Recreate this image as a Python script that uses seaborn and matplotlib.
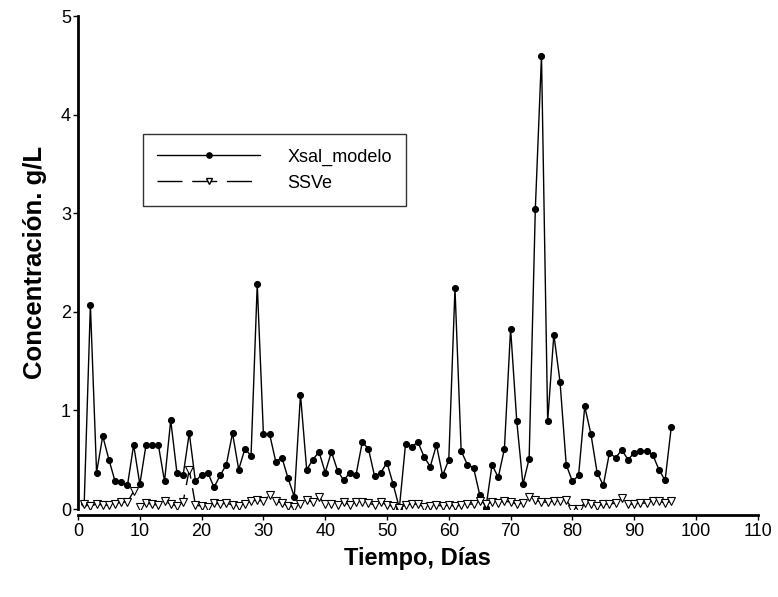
import matplotlib
matplotlib.use("Agg")
import matplotlib.pyplot as plt
import seaborn as sns
import pandas as pd
from matplotlib.lines import Line2D

days = list(range(1, 97))
xsal_modelo = [0.06, 2.07, 0.37, 0.74, 0.50, 0.28, 0.27, 0.24, 0.65, 0.25,
               0.65, 0.65, 0.65, 0.28, 0.90, 0.37, 0.34, 0.77, 0.28, 0.35,
               0.37, 0.22, 0.34, 0.45, 0.77, 0.40, 0.61, 0.54, 2.28, 0.76,
               0.76, 0.48, 0.52, 0.31, 0.125, 1.16, 0.40, 0.50, 0.58, 0.37,
               0.58, 0.39, 0.29, 0.37, 0.35, 0.68, 0.61, 0.33, 0.37, 0.47,
               0.25, 0.01, 0.66, 0.63, 0.68, 0.53, 0.43, 0.65, 0.34, 0.50,
               2.24, 0.59, 0.45, 0.42, 0.145, 0.01, 0.45, 0.32, 0.61, 1.83,
               0.89, 0.25, 0.51, 3.04, 4.60, 0.89, 1.77, 1.29, 0.45, 0.28,
               0.34, 1.04, 0.76, 0.37, 0.24, 0.57, 0.52, 0.60, 0.50, 0.57,
               0.59, 0.59, 0.55, 0.40, 0.29, 0.83]
ssve = [0.05, 0.03, 0.05, 0.04, 0.04, 0.05, 0.07, 0.07, 0.18, 0.02,
        0.06, 0.05, 0.04, 0.08, 0.05, 0.03, 0.07, 0.40, 0.04, 0.03,
        0.02, 0.06, 0.05, 0.06, 0.04, 0.03, 0.05, 0.08, 0.09, 0.08,
        0.14, 0.08, 0.06, 0.03, 0.02, 0.05, 0.09, 0.07, 0.12, 0.05,
        0.05, 0.04, 0.07, 0.04, 0.07, 0.07, 0.06, 0.04, 0.07, 0.04,
        0.03, 0.01, 0.04, 0.05, 0.05, 0.02, 0.03, 0.04, 0.03, 0.04,
        0.03, 0.04, 0.05, 0.05, 0.08, 0.05, 0.07, 0.06, 0.08, 0.07,
        0.05, 0.06, 0.12, 0.09, 0.07, 0.07, 0.08, 0.08, 0.09, 0.00,
        0.00, 0.06, 0.05, 0.03, 0.05, 0.05, 0.06, 0.11, 0.05, 0.05,
        0.06, 0.06, 0.08, 0.08, 0.06, 0.08]
series_names = ["Xsal_modelo", "SSVe"]
x_ticks = list(range(0, 111, 10))
y_ticks = [0, 1, 2, 3, 4, 5]

sns.set_style("white")
plt.rcParams['font.family'] = ['Liberation Sans', 'DejaVu Sans']
plt.rcParams.update({"text.color": "black", "axes.labelcolor": "black",
                     "xtick.color": "black", "ytick.color": "black"})

df = pd.DataFrame({"Dia": days, series_names[0]: xsal_modelo, series_names[1]: ssve})

fig = plt.figure(figsize=(7.78, 5.97), dpi=100)
ax = fig.add_axes([0.1003, 0.1474, 0.8737, 0.8256])

sns.lineplot(data=df, x="Dia", y=series_names[0], ax=ax, color="black", lw=1.0,
             marker="o", markersize=4.3, markerfacecolor="black",
             markeredgecolor="black", markeredgewidth=0.8)
sns.lineplot(data=df, x="Dia", y=series_names[1], ax=ax, color="black", lw=1.0,
             marker="v", markersize=5.2, markerfacecolor="white",
             markeredgecolor="black", markeredgewidth=0.8)
ax.lines[1].set_dashes((18, 7))

ax.set_xlim(0, 110)
ax.set_ylim(0, 5)
ax.set_xticks(x_ticks)
ax.set_yticks(y_ticks)
ax.tick_params(axis="x", labelsize=13, direction="out", length=3.5, width=1,
               bottom=True, colors="black", pad=2.5)
ax.tick_params(axis="y", labelsize=13, direction="out", length=3.5, width=1,
               left=True, colors="black", pad=1.5)
for s in ["top", "right"]:
    ax.spines[s].set_visible(False)
for s in ["left", "bottom"]:
    ax.spines[s].set_linewidth(2.0)
    ax.spines[s].set_color("black")
ax.spines["bottom"].set_position(("outward", 4))

ax.set_xlabel("Tiempo, Días", fontsize=17, fontweight="bold", labelpad=5,
              color="black")
ax.set_ylabel("Concentración. g/L", fontsize=18.5, fontweight="bold", labelpad=10,
              color="black")

h1 = Line2D([], [], color="black", lw=1.0, marker="o", markersize=3.8,
            markerfacecolor="black")
h2 = Line2D([], [], color="black", lw=1.0, marker="v", markersize=4.5,
            markerfacecolor="white", markeredgecolor="black", dashes=(18, 7))
leg = ax.legend([h1, h2], series_names, loc="upper left",
                bbox_to_anchor=(0.0956, 0.7606), fontsize=13, handlelength=5.7,
                handletextpad=1.5, numpoints=1, frameon=True, fancybox=False,
                borderpad=0.8, labelspacing=0.5, borderaxespad=0)
leg.get_frame().set_edgecolor("black")
leg.get_frame().set_linewidth(1.0)
for t in leg.get_texts():
    t.set_color("black")

fig.savefig("out.png", dpi=100)
